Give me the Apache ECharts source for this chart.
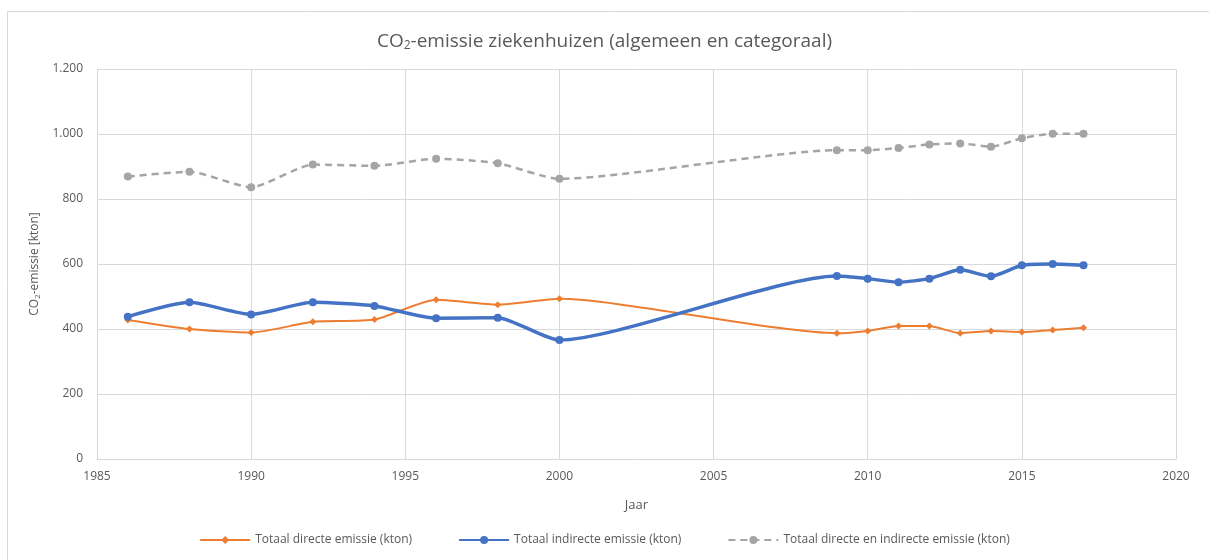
<!DOCTYPE html>
<html lang="nl">
<head>
<meta charset="UTF-8">
<title>CO2-emissie ziekenhuizen</title>
<style>
  html, body { margin: 0; padding: 0; background: #fff; }
  #main { width: 1209px; height: 560px; }
</style>
</head>
<body>
<div id="main"></div>
<script src="https://cdn.jsdelivr.net/npm/echarts@6/dist/echarts.min.js"></script>
<script>
// jaren en waarden (kton)
var jaren = [1986, 1988, 1990, 1992, 1994, 1996, 1998, 2000, 2009, 2010, 2011, 2012, 2013, 2014, 2015, 2016, 2017];
var direct = [428, 400, 389, 422, 429, 490, 475, 493, 387, 394, 409, 409, 387, 394, 391, 397, 404];
var indirect = [438, 482, 445, 482, 471, 433, 435, 366, 563, 555, 544, 555, 582, 562, 596, 600, 596];
var totaal = [869, 884, 836, 906, 902, 924, 910, 862, 950, 950, 957, 968, 971, 961, 987, 1001, 1001];

var reeksNamen = ['Totaal directe emissie (kton)', 'Totaal indirecte emissie (kton)', 'Totaal directe en indirecte emissie (kton)'];

function paren(ys) {
    var out = [];
    for (var i = 0; i < jaren.length; i++) {
        out.push([jaren[i], ys[i]]);
    }
    return out;
}

var font = 'Open Sans, Liberation Sans, sans-serif';
var myChart = echarts.init(document.getElementById('main'));

var option = {
    animation: false,
    textStyle: { fontFamily: font },
    graphic: [{
        type: 'rect',
        shape: { x: 7.5, y: 11.5, width: 1300, height: 700 },
        style: { fill: 'none', stroke: '#d9d9d9', lineWidth: 1 },
        silent: true
    }],
    title: {
        text: '{a|CO}{s|2}{a|-emissie ziekenhuizen (algemeen en categoraal)}',
        left: 'center',
        top: 26,
        textStyle: {
            fontWeight: 'normal',
            rich: {
                a: { fontSize: 19, color: '#595959', fontFamily: font, fontWeight: 'normal' },
                s: { fontSize: 12, color: '#595959', fontFamily: font, fontWeight: 'normal', padding: [9, 0, 0, 0] }
            }
        }
    },
    grid: { left: 97, right: 33, top: 69, bottom: 101 },
    legend: {
        bottom: 9,
        left: 'center',
        itemGap: 46,
        itemWidth: 50,
        itemHeight: 10,
        textStyle: { color: '#595959', fontSize: 12, fontFamily: font },
        data: reeksNamen
    },
    xAxis: {
        type: 'value',
        min: 1985,
        max: 2020,
        interval: 5,
        name: 'Jaar',
        nameLocation: 'middle',
        nameGap: 40,
        nameTextStyle: { color: '#595959', fontSize: 13 },
        axisLine: { show: true, lineStyle: { color: '#d9d9d9' } },
        axisTick: { show: false },
        axisLabel: {
            color: '#595959',
            fontSize: 12,
            margin: 12,
            formatter: function (v) { return String(v); }
        },
        splitLine: { show: true, lineStyle: { color: '#d9d9d9' } }
    },
    yAxis: {
        type: 'value',
        min: 0,
        max: 1200,
        interval: 200,
        name: '{a|CO}{s|2}{a|-emissie [kton]}',
        nameLocation: 'middle',
        nameGap: 50,
        nameRotate: 90,
        nameTextStyle: {
            rich: {
                a: { fontSize: 12, color: '#595959', fontFamily: font },
                s: { fontSize: 8, color: '#595959', fontFamily: font, padding: [6, 0, 0, 0] }
            }
        },
        axisLine: { show: false },
        axisTick: { show: false },
        axisLabel: {
            color: '#595959',
            fontSize: 12,
            margin: 14,
            formatter: function (v) {
                return String(v).replace(/\B(?=(\d{3})+(?!\d))/g, '.');
            }
        },
        splitLine: { show: true, lineStyle: { color: '#d9d9d9' } }
    },
    series: [
        {
            name: reeksNamen[0],
            type: 'line',
            smooth: 0.2,
            data: paren(direct),
            symbol: 'diamond',
            symbolSize: 7,
            itemStyle: { color: '#ED7D31' },
            lineStyle: { width: 2, color: '#ED7D31' },
            z: 3
        },
        {
            name: reeksNamen[1],
            type: 'line',
            smooth: 0.2,
            data: paren(indirect),
            symbol: 'circle',
            symbolSize: 8,
            itemStyle: { color: '#4472C4' },
            lineStyle: { width: 3.5, color: '#4472C4' },
            z: 4
        },
        {
            name: reeksNamen[2],
            type: 'line',
            smooth: 0.2,
            data: paren(totaal),
            symbol: 'circle',
            symbolSize: 8,
            itemStyle: { color: '#A5A5A5' },
            lineStyle: { width: 2.5, color: '#A5A5A5', type: [7, 5] },
            z: 2
        }
    ]
};

myChart.setOption(option);
</script>
</body>
</html>
